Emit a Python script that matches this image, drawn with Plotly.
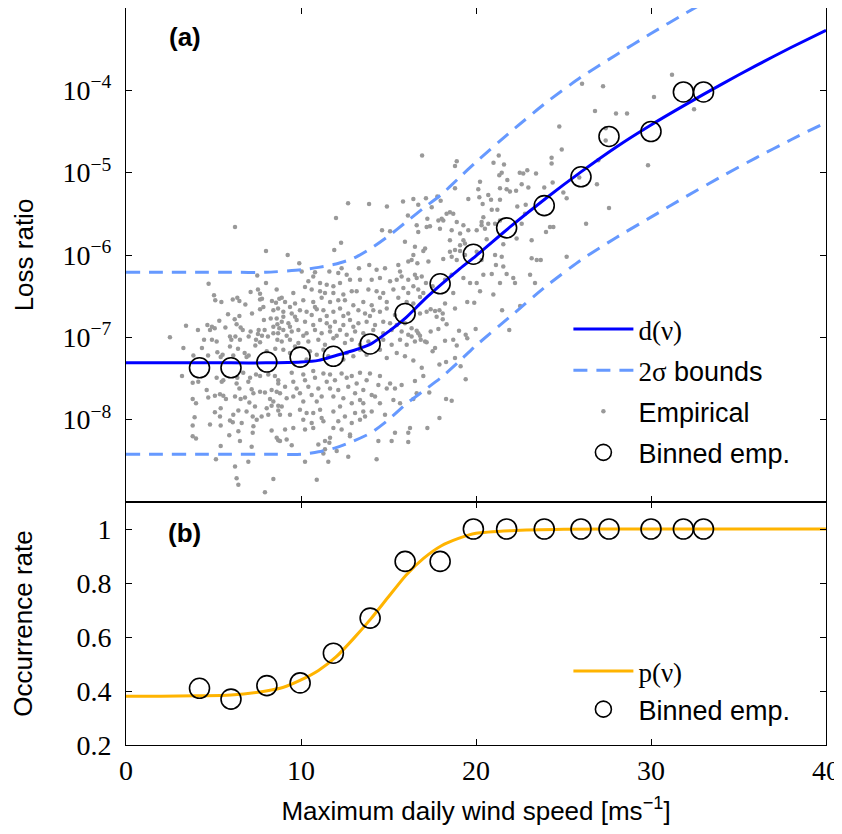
""" Loss ratio and occurrence rate against maximum daily wind speed. """

import numpy as np
import plotly.graph_objects as go
from plotly.subplots import make_subplots


# Fitted curves of panel (a) (log10 of the loss ratio).
WIND_GRID = [0, 2, 4, 6, 8, 10, 11, 12, 13, 14, 15, 16, 17, 18, 19, 20,
             22, 24, 26, 28, 30, 32, 34, 36, 38, 40]
FIT_LOG10 = [-7.31, -7.31, -7.31, -7.31, -7.31, -7.30, -7.28, -7.22, -7.16,
             -7.08, -6.93, -6.76, -6.55, -6.36, -6.18, -6.01, -5.65, -5.31,
             -4.99, -4.69, -4.42, -4.17, -3.93, -3.70, -3.48, -3.27]
UPPER_LOG10 = [-6.21, -6.21, -6.21, -6.21, -6.21, -6.18, -6.15, -6.11, -6.04,
               -5.92, -5.77, -5.60, -5.43, -5.27, -5.07, -4.87, -4.50, -4.15,
               -3.84, -3.57, -3.31, -3.06, -2.82, -2.59, -2.37, -2.16]
LOWER_LOG10 = [-8.42, -8.42, -8.42, -8.42, -8.42, -8.42, -8.39, -8.34, -8.26,
               -8.16, -8.00, -7.81, -7.65, -7.49, -7.30, -7.10, -6.74, -6.38,
               -6.06, -5.79, -5.54, -5.29, -5.05, -4.82, -4.60, -4.39]

# Binned empirical values (same bins in both panels).
BIN_WIND = [4.2, 6.0, 8.05, 9.95, 11.85, 13.95, 15.95, 17.95, 19.85, 21.75,
            23.9, 26.0, 27.6, 30.0, 31.85, 33.0]
BIN_LOSS_LOG10 = [-7.37, -7.37, -7.30, -7.24, -7.23, -7.08, -6.71, -6.35,
                  -5.99, -5.67, -5.40, -5.05, -4.56, -4.50, -4.02, -4.02]
BIN_OCCURRENCE = [0.41, 0.37, 0.42, 0.43, 0.54, 0.67, 0.88, 0.88, 1.0, 1.0,
                  1.0, 1.0, 1.0, 1.0, 1.0, 1.0]

# Fitted occurrence rate of panel (b).
OCC_GRID = [0, 2, 4, 6, 8, 9, 10, 11, 12, 13, 14, 15, 16, 17, 18, 19, 20,
            22, 25, 30, 35, 40]
OCC_FIT = [0.381, 0.381, 0.382, 0.385, 0.400, 0.414, 0.441, 0.476, 0.526,
           0.594, 0.668, 0.749, 0.829, 0.891, 0.937, 0.965, 0.984, 0.994,
           0.999, 1.0, 1.0, 1.0]

# Empirical daily points: (wind speed, log10 loss ratio).
EMPIRICAL = [
    (8.0, -5.95), (7.5, -6.25), (8.0, -6.34), (4.72, -6.35), (7.12, -6.45),
    (7.54, -6.42), (7.66, -6.47), (8.61, -6.42), (5.03, -6.49), (5.45, -6.57),
    (5.1, -6.55), (6.1, -6.54), (6.36, -6.52), (6.48, -6.56), (6.82, -6.6),
    (7.66, -6.54), (7.77, -6.53), (7.85, -6.63), (8.34, -6.56), (8.57, -6.58),
    (8.76, -6.53), (7.2, -6.71), (7.66, -6.66), (8.42, -6.67), (8.69, -6.65),
    (5.83, -6.72), (6.21, -6.78), (6.48, -6.74), (7.88, -6.79), (8.27, -6.77),
    (8.61, -6.77), (5.33, -6.8), (3.43, -6.86), (4.65, -6.85), (4.91, -6.87),
    (5.07, -6.89), (4.8, -6.91), (5.68, -6.88), (6.32, -6.84), (6.55, -6.88),
    (7.12, -6.93), (7.58, -6.91), (7.92, -6.91), (8.42, -6.87), (8.65, -6.84),
    (8.76, -6.89), (4.11, -6.91), (2.51, -7.0), (4.46, -7.03), (4.91, -7.03),
    (5.94, -6.99), (6.25, -6.99), (6.67, -6.91), (7.54, -6.96), (7.77, -6.98),
    (8.11, -6.99), (8.42, -6.95), (8.69, -6.95), (3.28, -7.13), (4.34, -7.13),
    (5.18, -7.05), (6.02, -7.03), (6.51, -7.03), (7.01, -6.99), (7.43, -7.03),
    (7.66, -7.06), (8.65, -7.03), (5.22, -7.18), (5.52, -7.21), (5.94, -7.11),
    (6.4, -7.14), (6.78, -7.19), (7.01, -7.22), (7.39, -7.10), (8.04, -7.17),
    (8.53, -7.14), (3.85, -7.22), (4.69, -7.22), (5.41, -7.24), (6.13, -7.22),
    (6.89, -7.24), (6.23, -5.66),
    (3.2, -7.47), (3.81, -7.55), (4.13, -7.54), (5.18, -7.49), (5.47, -7.54),
    (5.56, -7.52), (6.36, -7.49), (6.7, -7.43), (7.09, -7.49), (7.43, -7.45),
    (7.66, -7.47), (8.13, -7.45), (8.51, -7.47), (8.7, -7.52), (4.61, -7.64),
    (5.08, -7.71), (5.37, -7.69), (5.56, -7.71), (5.71, -7.75), (3.81, -7.75),
    (4.0, -7.80), (4.7, -7.73), (6.23, -7.72), (6.55, -7.75), (6.8, -7.73),
    (7.05, -7.79), (7.28, -7.68), (7.66, -7.66), (7.94, -7.67), (8.32, -7.64),
    (8.61, -7.66), (8.7, -7.56), (6.99, -7.54), (6.32, -7.56), (6.48, -7.62),
    (7.18, -7.63), (8.23, -7.75), (8.42, -7.78), (8.7, -7.83), (5.08, -7.91),
    (5.41, -7.86), (5.37, -7.96), (6.13, -7.94), (6.42, -7.89), (6.89, -7.9),
    (7.37, -7.84), (8.04, -7.86), (8.7, -7.89), (3.92, -7.97), (5.94, -8.01),
    (6.1, -8.03), (6.61, -8.04), (7.24, -7.96), (7.47, -8.0), (7.75, -7.96),
    (8.13, -7.94), (8.32, -7.83), (3.81, -8.07), (4.8, -8.06), (5.41, -8.07),
    (6.42, -8.14), (7.28, -8.08), (7.24, -8.16), (8.32, -8.13), (8.61, -8.22),
    (8.7, -8.25), (3.81, -8.2), (4.0, -8.23), (5.9, -8.19), (6.51, -8.26),
    (5.41, -8.32), (7.18, -8.33), (5.14, -8.48), (6.23, -8.57), (6.99, -8.51),
    (6.32, -8.71), (6.42, -8.79), (7.94, -8.88), (8.42, -8.72),
    (12.29, -5.85), (11.9, -5.94), (15.94, -5.84), (9.24, -6.0), (9.9, -6.10),
    (10.04, -6.2), (10.8, -6.21), (11.62, -6.2), (12.13, -6.22), (12.61, -6.24),
    (12.32, -6.16), (13.31, -6.16), (13.9, -6.12), (14.32, -6.18), (14.8, -6.16),
    (15.56, -6.12), (15.66, -6.2), (16.13, -6.08),
    (10.7, -6.26), (10.42, -6.32), (11.09, -6.34), (11.47, -6.36), (11.85, -6.38),
    (12.23, -6.34), (12.8, -6.30), (13.37, -6.30), (14.04, -6.30), (14.51, -6.28),
    (15.09, -6.32), (15.47, -6.30), (15.75, -6.26), (16.13, -6.30),
    (10.23, -6.39), (10.61, -6.42), (11.09, -6.44), (11.37, -6.46), (11.85, -6.46),
    (12.42, -6.48), (12.9, -6.44), (13.18, -6.44), (13.85, -6.42), (14.32, -6.44),
    (14.7, -6.46), (15.28, -6.42), (15.85, -6.40), (16.13, -6.46), (8.9, -6.52),
    (9.56, -6.46),
    (9.09, -6.57), (9.66, -6.59), (10.13, -6.55), (10.7, -6.57), (11.18, -6.52),
    (11.66, -6.57), (12.13, -6.55), (12.51, -6.55), (12.99, -6.61), (13.56, -6.57),
    (14.04, -6.61), (14.51, -6.52), (14.9, -6.57), (15.56, -6.52), (16.04, -6.57),
    (9.37, -6.63), (10.8, -6.63),
    (8.99, -6.69), (9.47, -6.71), (9.94, -6.67), (10.32, -6.69), (10.9, -6.66),
    (11.28, -6.67), (11.85, -6.69), (12.23, -6.65), (12.7, -6.71), (13.28, -6.67),
    (13.66, -6.71), (14.13, -6.67), (14.51, -6.69), (14.9, -6.65), (15.37, -6.73),
    (8.99, -6.75), (9.66, -6.75), (10.61, -6.73), (11.47, -6.74), (12.42, -6.74),
    (13.94, -6.74),
    (8.9, -6.81), (9.28, -6.83), (9.75, -6.79), (10.23, -6.81), (10.7, -6.85),
    (11.09, -6.79), (11.47, -6.83), (11.94, -6.81), (12.42, -6.85), (12.8, -6.79),
    (13.28, -6.83), (13.75, -6.81), (14.23, -6.85), (14.7, -6.81), (15.09, -6.83),
    (15.47, -6.85), (15.94, -6.83), (9.37, -6.87), (11.66, -6.87), (12.99, -6.87),
    (8.99, -6.91), (9.47, -6.93), (9.85, -6.91), (10.32, -6.95), (10.8, -6.91),
    (11.18, -6.95), (11.66, -6.93), (12.23, -6.91), (12.61, -6.97), (13.09, -6.93),
    (13.56, -6.95), (14.13, -6.91), (14.7, -6.95), (15.18, -6.91), (15.75, -6.93),
    (16.13, -6.97), (9.18, -6.98), (10.13, -6.98), (12.04, -6.98),
    (8.9, -7.05), (9.37, -7.03), (9.85, -7.07), (10.42, -7.05), (10.99, -7.03),
    (11.37, -7.09), (11.85, -7.01), (12.51, -7.07), (12.9, -7.03), (13.37, -7.09),
    (13.85, -7.05), (14.7, -7.03), (15.18, -7.09), (15.66, -7.03), (16.04, -7.09),
    (9.66, -7.11),
    (8.99, -7.15), (9.37, -7.19), (10.51, -7.17), (10.9, -7.21), (11.28, -7.15),
    (11.56, -7.23), (12.61, -7.19), (12.99, -7.23), (13.37, -7.15), (13.75, -7.21),
    (14.51, -7.15), (14.9, -7.25), (15.47, -7.19), (15.94, -7.23), (10.32, -7.27),
    (12.42, -7.27),
    (9.47, -7.43), (10.13, -7.45), (10.7, -7.41), (11.28, -7.44), (11.66, -7.45),
    (12.32, -7.44), (12.9, -7.47), (13.37, -7.43), (13.94, -7.44), (14.51, -7.47),
    (9.56, -7.54), (10.23, -7.52), (10.8, -7.49), (11.47, -7.54), (11.94, -7.52),
    (12.61, -7.49), (13.18, -7.56), (13.75, -7.52), (14.42, -7.58), (15.09, -7.56),
    (15.75, -7.58), (9.09, -7.60), (9.75, -7.62), (10.42, -7.60), (10.99, -7.62),
    (11.66, -7.62), (12.13, -7.64), (12.7, -7.60), (13.09, -7.68), (13.56, -7.64),
    (14.04, -7.70), (14.9, -7.62), (15.37, -7.62), (9.94, -7.68), (10.61, -7.70),
    (11.18, -7.72), (11.85, -7.72), (12.42, -7.74), (13.37, -7.76), (14.23, -7.72),
    (15.28, -7.76), (8.8, -7.68), (9.18, -7.74), (9.56, -7.72), (10.13, -7.78),
    (10.9, -7.78), (12.9, -7.80), (13.56, -7.80), (14.51, -7.80), (15.66, -7.80),
    (8.9, -7.84), (9.37, -7.94), (9.94, -7.88), (10.32, -7.92), (10.7, -7.92),
    (11.09, -7.88), (11.18, -7.98), (11.85, -7.9), (12.23, -7.84), (12.51, -7.96),
    (13.09, -7.92), (13.56, -7.9), (14.04, -7.9), (14.8, -7.94), (8.8, -7.94),
    (10.13, -8.0), (10.61, -8.04), (11.28, -8.02), (12.13, -8.02), (12.9, -8.04),
    (13.37, -8.0), (13.66, -7.96), (9.56, -8.10), (9.09, -8.12), (10.23, -8.12),
    (10.7, -8.10), (11.85, -8.10), (12.32, -8.12), (12.8, -8.18), (15.18, -8.26),
    (15.37, -8.16), (16.13, -8.16), (16.13, -8.27), (8.8, -8.26), (9.18, -8.24),
    (9.47, -8.31), (10.99, -8.30), (11.37, -8.26), (11.66, -8.22), (12.04, -8.38),
    (11.62, -8.28), (11.37, -8.36), (12.8, -8.20), (14.42, -8.26), (10.23, -8.51),
    (11.28, -8.41), (11.56, -8.51), (12.7, -8.45), (14.32, -8.48), (10.9, -8.73),
    (12.69, -5.37), (13.89, -5.38), (14.91, -5.41), (15.83, -5.35), (12.0, -5.55),
    (14.63, -5.70), (15.09, -5.71), (16.11, -5.52),
    (16.92, -4.79), (18.9, -4.86), (18.8, -4.92), (21.3, -4.79), (21.0, -4.88),
    (21.6, -4.90), (22.5, -5.00), (22.7, -5.01), (22.93, -4.97), (23.43, -5.01),
    (21.47, -5.00), (21.33, -5.03), (21.79, -5.09), (20.23, -5.11), (18.8, -5.19),
    (20.13, -5.20), (21.37, -5.19), (21.75, -5.20), (21.94, -5.23), (22.29, -5.22),
    (22.61, -5.14), (22.99, -5.18), (23.9, -5.18), (24.38, -5.12), (24.99, -5.24),
    (25.18, -5.31), (19.56, -5.32), (20.19, -5.30), (20.7, -5.27), (20.86, -5.33),
    (21.37, -5.33), (20.38, -5.38), (20.9, -5.45), (21.22, -5.45), (22.36, -5.41),
    (22.8, -5.50), (17.98, -5.34), (17.79, -5.29), (17.47, -5.42), (16.42, -5.32),
    (16.7, -5.39), (17.14, -5.31), (18.51, -5.48), (18.7, -5.50), (18.32, -5.50),
    (18.13, -5.58), (17.85, -5.58), (18.04, -5.56), (17.22, -5.56), (16.61, -5.64),
    (16.7, -5.72), (17.18, -5.66), (17.37, -5.65), (17.94, -5.68), (18.9, -5.60),
    (19.28, -5.64), (19.56, -5.70), (20.04, -5.70), (20.32, -5.64), (20.51, -5.68),
    (20.42, -5.54), (20.32, -5.60), (20.7, -5.62), (21.09, -5.62), (21.37, -5.58),
    (18.61, -5.70), (18.51, -5.82), (19.09, -5.74), (19.28, -5.82), (19.09, -5.88),
    (19.37, -5.86), (18.8, -5.94), (18.51, -5.96), (20.61, -5.81), (21.56, -5.87),
    (22.32, -5.80), (22.61, -5.62), (22.84, -5.39), (23.18, -5.82), (23.18, -6.04),
    (23.47, -6.06), (23.7, -6.06), (23.09, -6.24), (23.37, -6.34), (25.18, -6.02),
    (24.23, -5.66), (24.42, -5.66), (24.0, -5.72), (16.51, -5.90), (17.09, -5.92),
    (16.99, -5.95), (16.42, -6.00), (16.65, -6.10), (16.32, -6.06), (17.28, -6.08),
    (18.13, -6.05), (18.61, -6.02), (19.09, -5.95), (19.37, -6.00), (18.9, -6.06),
    (20.04, -5.96), (20.32, -6.06), (21.09, -6.00), (21.47, -6.02), (21.14, -6.12),
    (21.56, -6.14), (20.42, -6.24), (20.9, -6.23), (21.75, -6.23), (22.13, -6.28),
    (22.23, -6.34), (20.04, -6.34), (19.66, -6.34), (20.23, -6.44), (20.99, -6.48),
    (21.37, -6.34), (19.28, -6.28), (18.61, -6.24), (18.23, -6.30), (18.7, -6.46),
    (17.52, -6.38), (17.14, -6.34), (16.61, -6.28), (16.9, -6.26), (16.51, -6.24),
    (16.7, -6.42), (16.99, -6.46), (16.8, -6.51), (16.42, -6.38),
    (24.76, -4.44), (24.9, -4.72), (24.32, -4.82), (24.32, -4.89),
    (16.42, -6.59), (16.8, -6.71), (17.18, -6.69), (17.41, -6.66), (17.66, -6.68),
    (17.91, -6.67), (18.1, -6.71), (17.75, -6.75), (18.1, -6.78), (18.23, -6.59),
    (18.8, -6.65), (19.5, -6.57), (19.9, -6.58), (18.32, -6.84), (17.85, -6.90),
    (17.41, -6.93), (16.61, -6.92), (16.32, -6.89), (16.7, -6.95), (16.8, -6.98),
    (16.51, -7.05), (17.09, -7.05), (17.18, -7.06), (16.84, -7.03), (16.32, -6.99),
    (17.66, -7.13), (17.52, -7.17), (18.23, -7.04), (18.7, -7.03), (18.9, -7.10),
    (19.03, -6.92), (19.41, -6.97), (19.5, -7.01), (19.98, -6.90), (21.49, -6.67),
    (22.52, -6.62), (21.9, -6.91), (16.42, -7.28), (16.9, -7.37), (16.99, -7.47),
    (16.51, -7.53), (16.61, -7.68), (16.42, -7.75), (17.33, -7.67), (17.91, -7.33),
    (18.29, -7.30), (18.8, -7.25), (19.12, -7.35), (19.41, -7.51), (18.29, -7.75),
    (18.61, -7.77), (17.91, -7.98), (17.22, -8.10), (16.23, -8.10),
    (26.06, -3.92), (27.26, -3.95), (26.8, -4.25), (28.0, -4.28), (28.63, -4.28),
    (26.91, -5.14), (27.6, -5.43), (26.29, -5.62), (29.83, -4.91), (30.17, -4.08),
    (31.2, -3.81), (32.46, -4.23), (27.41, -4.46), (27.41, -4.61), (26.99, -4.85),
    (25.9, -5.06),
]

LOSS_TICKS = [1e-8, 1e-7, 1e-6, 1e-5, 1e-4]
LOSS_TICK_TEXT = ["10<sup>−8</sup>", "10<sup>−7</sup>", "10<sup>−6</sup>",
                  "10<sup>−5</sup>", "10<sup>−4</sup>"]
OCC_TICKS = [0.2, 0.4, 0.6, 0.8, 1.0]
OCC_TICK_TEXT = ["0.2", "0.4", "0.6", "0.8", "1"]
WIND_TICKS = [0, 10, 20, 30, 40]

SANS = "Liberation Sans"
SERIF = "Liberation Serif"


def to_loss(log_values):
    return np.power(10.0, np.asarray(log_values, dtype=float))


fig = make_subplots(rows=2, cols=1, shared_xaxes=True, vertical_spacing=0,
                    row_heights=[0.6703, 0.3297])

emp_wind = [p[0] for p in EMPIRICAL]
emp_log = [p[1] for p in EMPIRICAL]

# Panel (a)
fig.add_trace(go.Scatter(
    x=emp_wind, y=to_loss(emp_log), mode="markers", name="Empirical",
    marker=dict(size=4.5, color="#999999"), legendrank=3,
    legendgroup="emp"), row=1, col=1)
fig.add_trace(go.Scatter(
    x=WIND_GRID, y=to_loss(UPPER_LOG10), mode="lines",
    name=f"<span style='font-family:{SERIF}'>2σ</span> bounds",
    line=dict(color="#6699FF", width=3, dash="14px,9px", shape="spline",
              smoothing=0.6),
    legendrank=2, legendgroup="bounds"), row=1, col=1)
fig.add_trace(go.Scatter(
    x=WIND_GRID, y=to_loss(LOWER_LOG10), mode="lines", showlegend=False,
    line=dict(color="#6699FF", width=3, dash="14px,9px", shape="spline",
              smoothing=0.6),
    legendgroup="bounds"), row=1, col=1)
fig.add_trace(go.Scatter(
    x=WIND_GRID, y=to_loss(FIT_LOG10), mode="lines",
    name=f"<span style='font-family:{SERIF}'>d(ν)</span>",
    line=dict(color="#0000FF", width=3, shape="spline", smoothing=0.6),
    legendrank=1, legendgroup="fit"), row=1, col=1)
fig.add_trace(go.Scatter(
    x=BIN_WIND, y=to_loss(BIN_LOSS_LOG10), mode="markers", name="Binned emp.",
    marker=dict(size=20, color="rgba(0,0,0,0)",
                line=dict(color="black", width=1.6)),
    legendrank=4, legendgroup="bins"), row=1, col=1)

# Panel (b)
fig.add_trace(go.Scatter(
    x=OCC_GRID, y=OCC_FIT, mode="lines",
    name=f"<span style='font-family:{SERIF}'>p(ν)</span>",
    line=dict(color="#FFB400", width=3, shape="spline", smoothing=0.6),
    legend="legend2", legendgroup="pfit"), row=2, col=1)
fig.add_trace(go.Scatter(
    x=BIN_WIND, y=BIN_OCCURRENCE, mode="markers", name="Binned emp.",
    marker=dict(size=20, color="rgba(0,0,0,0)",
                line=dict(color="black", width=1.6)),
    legend="legend2", legendgroup="pbins"), row=2, col=1)

axis_common = dict(showline=True, linecolor="black", linewidth=1,
                   mirror="allticks", ticks="inside", ticklen=6,
                   tickcolor="black", showgrid=False, zeroline=False,
                   automargin=False,
                   tickfont=dict(family=SERIF, size=28, color="black"))

fig.update_xaxes(range=[0, 40], tickvals=WIND_TICKS, **axis_common)
fig.update_xaxes(showticklabels=False, row=1, col=1)
fig.update_xaxes(
    title=dict(text="Maximum daily wind speed [ms<sup>−1</sup>]",
               font=dict(family=SANS, size=26, color="black"), standoff=17),
    row=2, col=1)

fig.update_yaxes(type="log", range=[-9, -3], tickvals=LOSS_TICKS,
                 ticktext=LOSS_TICK_TEXT, ticklabelstandoff=8,
                 title=dict(text="Loss ratio", standoff=21,
                            font=dict(family=SANS, size=26, color="black")),
                 row=1, col=1, **axis_common)
fig.update_yaxes(range=[0.2, 1.1], tickvals=OCC_TICKS, ticktext=OCC_TICK_TEXT,
                 ticklabelstandoff=8,
                 title=dict(text="Occurrence rate", standoff=36,
                            font=dict(family=SANS, size=26, color="black")),
                 row=2, col=1, **axis_common)

legend_common = dict(bgcolor="rgba(0,0,0,0)", borderwidth=0,
                     font=dict(family=SANS, size=27, color="black"),
                     xanchor="left", yanchor="top", itemwidth=60)

# The page adds an 8px body margin, so the figure is 8px smaller than the
# window and the left/top margins are reduced by the same amount.
fig.update_layout(
    width=834, height=826,
    margin=dict(l=118, r=16, t=0, b=89, autoexpand=False),
    paper_bgcolor="white", plot_bgcolor="white",
    legend=dict(x=0.632, y=0.597, tracegroupgap=3, **legend_common),
    legend2=dict(x=0.632, y=0.133, tracegroupgap=0, **legend_common),
    annotations=[
        dict(text="<b>(a)</b>", x=0.084, y=0.961, xref="paper", yref="paper",
             xanchor="center", yanchor="middle", showarrow=False,
             font=dict(family=SANS, size=26, color="black")),
        dict(text="<b>(b)</b>", x=0.084, y=0.288, xref="paper", yref="paper",
             xanchor="center", yanchor="middle", showarrow=False,
             font=dict(family=SANS, size=26, color="black")),
    ],
)

fig.write_html("out.html")
